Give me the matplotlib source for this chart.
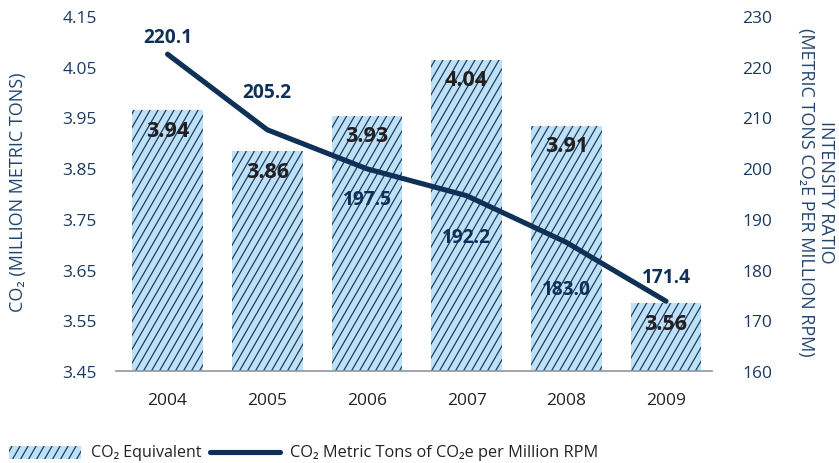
import matplotlib
matplotlib.use("Agg")
import numpy as np
import matplotlib.pyplot as plt
from matplotlib.patches import Rectangle
from matplotlib.collections import LineCollection
from matplotlib.transforms import ScaledTranslation, IdentityTransform
from matplotlib.lines import Line2D

# ---------------- data ----------------
years = ["2004", "2005", "2006", "2007", "2008", "2009"]
co2_equivalent = [3.94, 3.86, 3.93, 4.04, 3.91, 3.56]
intensity_ratio = [220.1, 205.2, 197.5, 192.2, 183.0, 171.4]
left_ticks = [3.45, 3.55, 3.65, 3.75, 3.85, 3.95, 4.05, 4.15]
right_ticks = [160, 170, 180, 190, 200, 210, 220, 230]
bar_label_texts = ["3.94", "3.86", "3.93", "4.04", "3.91", "3.56"]
line_label_texts = ["220.1", "205.2", "197.5", "192.2", "183.0", "171.4"]
line_label_dy = [17, 38, -30, -41, -47, 24]   # label offsets in pixels

# ---------------- style ----------------
FAM = ["Open Sans", "DejaVu Sans"]
plt.rcParams["font.family"] = FAM
NAVY = "#0f3158"
TXT = "#1b3a5f"
BAR_FILL = "#bfe1f6"
HATCH = "#1d3d63"
W, H = 839, 464

fig = plt.figure(figsize=(W / 100, H / 100), dpi=100)
ax = fig.add_axes([116 / W, 1 - 372 / H, (712 - 116) / W, (372 - 5) / H])
ax2 = ax.twinx()

x = np.arange(len(years))
base = 3.45 - 12 / 507
ax.set_xlim(-0.517, 5.461)
ax.set_ylim(base, 4.15)
ax2.set_ylim(160 - 12 / 5.07, 230)

bars = ax.bar(x, np.array(co2_equivalent) - base, bottom=base, width=0.71,
              color=BAR_FILL, edgecolor="none", zorder=1)


def hatch_segments(angle_deg=60, spacing=8.0):
    t = np.tan(np.radians(angle_deg))
    run = (H + 20) / t
    segs = []
    c = -run - 20
    while c < W + 20:
        segs.append([(c, -10), (c + run, H + 10)])
        c += spacing
    return segs


for b in bars:
    lc = LineCollection(hatch_segments(), colors=HATCH, linewidths=0.9,
                        transform=IdentityTransform(), zorder=1.5)
    ax.add_collection(lc, autolim=False)
    lc.set_clip_path(b)

for i, (v, t) in enumerate(zip(co2_equivalent, bar_label_texts)):
    ax.annotate(t, (x[i], v), xytext=(0, -20), textcoords="offset pixels",
                ha="center", va="center", fontsize=15.5, fontweight="bold",
                color="#231f20", zorder=3)

ax2.plot(x, intensity_ratio, color=NAVY, lw=3.7, solid_capstyle="round",
         solid_joinstyle="round", zorder=2)
for i, (v, t) in enumerate(zip(intensity_ratio, line_label_texts)):
    ax2.annotate(t, (x[i], v), xytext=(0, line_label_dy[i]), textcoords="offset pixels",
                 ha="center", va="center", fontsize=13.8, fontweight="bold",
                 color=NAVY, zorder=3)

# axes cosmetics
for s in ["top", "left", "right"]:
    ax.spines[s].set_visible(False)
for s in ax2.spines.values():
    s.set_visible(False)
ax.spines["bottom"].set_color("#8d969e")
ax.spines["bottom"].set_linewidth(1.2)
ax.spines["bottom"].set_zorder(4)

ax.set_xticks(x)
ax.set_xticklabels(years)
ax.set_yticks(left_ticks)
ax.set_yticklabels([f"{v:.2f}" for v in left_ticks])
ax2.set_yticks(right_ticks)
ax2.set_yticklabels([str(v) for v in right_ticks])

ax.tick_params(axis="x", length=0, pad=15, labelsize=12.5, labelcolor="#222222")
ax.tick_params(axis="y", length=0, pad=13.7, labelsize=12.5, labelcolor=TXT)
ax2.tick_params(axis="y", length=0, pad=21.6, labelsize=12.5, labelcolor=TXT)

off = ScaledTranslation(0, -12 / 100, fig.dpi_scale_trans)
for lab in ax.get_yticklabels():
    lab.set_transform(lab.get_transform() + off)
for lab in ax2.get_yticklabels():
    lab.set_transform(lab.get_transform() + off)

# axis titles
fig.text(18 / W, 1 - 192 / H, "CO₂ (MILLION METRIC TONS)", rotation=90,
         ha="center", va="center", fontsize=13, color="#23466e")
fig.text(816 / W, 1 - 192 / H, "INTENSITY RATIO\n(METRIC TONS CO₂E PER MILLION RPM)",
         rotation=270, ha="center", va="center", multialignment="center",
         linespacing=1.15, fontsize=13, color="#23466e")

# manual legend
ly = H - 453
leg_rect = Rectangle((9, ly - 6.5), 72, 13, transform=IdentityTransform(),
                     facecolor=BAR_FILL, edgecolor="none")
fig.add_artist(leg_rect)
llc = LineCollection(hatch_segments(), colors=HATCH, linewidths=0.9,
                     transform=IdentityTransform())
fig.add_artist(llc)
llc.set_clip_path(leg_rect)
fig.text(91 / W, ly / H, "CO₂ Equivalent", ha="left", va="center",
         fontsize=11.5, color="#222222")
fig.add_artist(Line2D([210, 280], [ly, ly], transform=IdentityTransform(),
                      color=NAVY, lw=3.7, solid_capstyle="round"))
fig.text(290 / W, ly / H, "CO₂ Metric Tons of CO₂e per Million RPM", ha="left",
         va="center", fontsize=11.8, color="#222222")

fig.savefig("out.png", dpi=100)
